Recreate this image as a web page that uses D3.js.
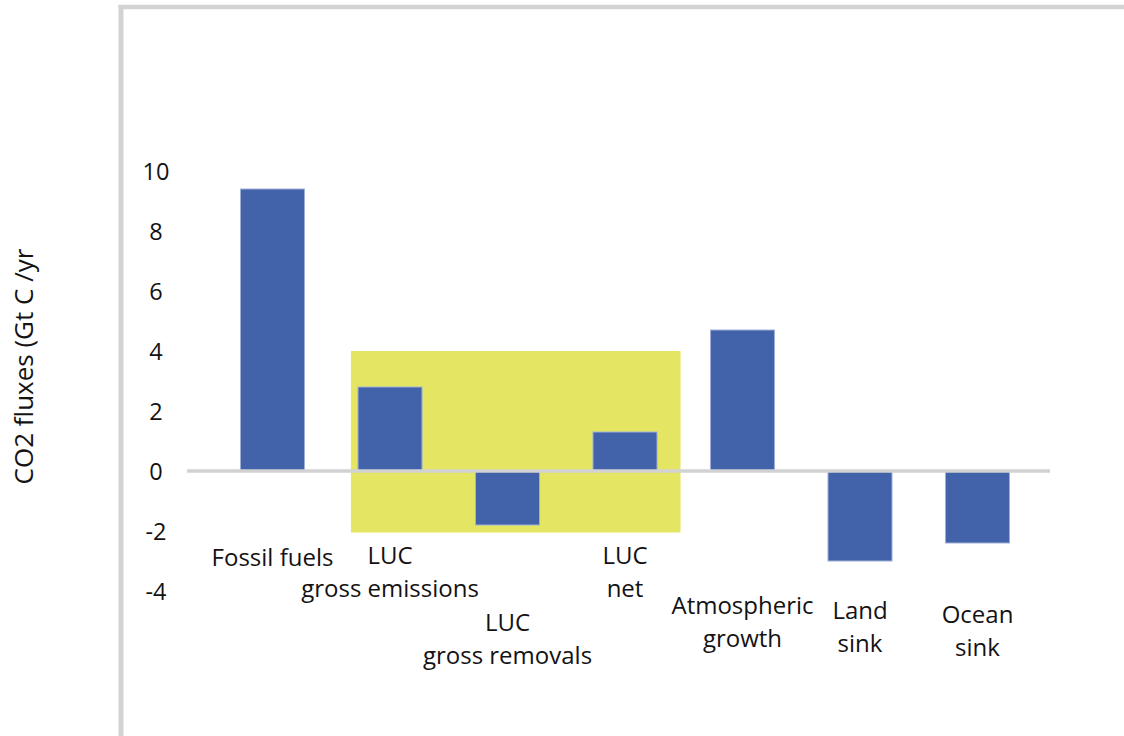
<!DOCTYPE html>
<html>
<head>
<meta charset="utf-8">
<script src="https://cdn.jsdelivr.net/npm/d3@7"></script>
<style>
  html, body { margin: 0; padding: 0; background: #fff; }
  svg { display: block; }
  text { font-family: "Open Sans", "Noto Sans", sans-serif; fill: #141213; }
</style>
</head>
<body>
<svg id="chart" width="1124" height="736"></svg>
<script>
// Global carbon budget components (Gt C per year)
const categories = [
  "Fossil fuels",
  "LUC gross emissions",
  "LUC gross removals",
  "LUC net",
  "Atmospheric growth",
  "Land sink",
  "Ocean sink"
];
const fluxes = [9.4, 2.8, -1.8, 1.3, 4.7, -3.0, -2.4];
const labelLines = [
  ["Fossil fuels"],
  ["LUC", "gross emissions"],
  ["LUC", "gross removals"],
  ["LUC", "net"],
  ["Atmospheric", "growth"],
  ["Land", "sink"],
  ["Ocean", "sink"]
];
const yTicks = [10, 8, 6, 4, 2, 0, -2, -4];
const yTitle = "CO2 fluxes (Gt C /yr";
// Land-use-change group that gets the highlight panel
const highlightFrom = "LUC gross emissions";
const highlightTo = "LUC net";
const highlightRange = [-2.05, 4];

// Layout: distance of each category label's first baseline below the zero line
const labelDrop = [95, 93, 160, 93, 143, 148, 152];
const lineGap = 33;

const svg = d3.select("#chart");

const x = d3.scaleBand()
  .domain(categories)
  .range([213.75, 1036.25])
  .paddingInner(0.455)
  .paddingOuter(0.2275);

const y = d3.scaleLinear()
  .domain([-4, 10])
  .range([591, 171]);

// Light grey frame (left and top edges)
svg.append("line")
  .attr("x1", 121).attr("x2", 121)
  .attr("y1", 5).attr("y2", 736)
  .attr("stroke", "#d3d3d3").attr("stroke-width", 5);
svg.append("line")
  .attr("x1", 118.5).attr("x2", 1124)
  .attr("y1", 7).attr("y2", 7)
  .attr("stroke", "#d3d3d3").attr("stroke-width", 4.5);

// Highlight panel behind the land-use-change bars
const step = x.step();
const hlLeft = x(highlightFrom) - 0.06 * step;
const hlRight = x(highlightTo) + x.bandwidth() + 0.2 * step;
svg.append("rect")
  .attr("x", hlLeft)
  .attr("y", y(highlightRange[1]))
  .attr("width", hlRight - hlLeft)
  .attr("height", y(highlightRange[0]) - y(highlightRange[1]))
  .attr("fill", "#e4e663");

// Bars
svg.append("g")
  .selectAll("rect")
  .data(categories)
  .join("rect")
  .attr("x", d => x(d))
  .attr("width", x.bandwidth())
  .attr("y", (d, i) => y(Math.max(0, fluxes[i])))
  .attr("height", (d, i) => Math.abs(y(fluxes[i]) - y(0)))
  .attr("fill", "#4263aa")
  .attr("stroke", "#9fb0d8")
  .attr("stroke-width", 1);

// Zero line
svg.append("line")
  .attr("x1", 187).attr("x2", 1050)
  .attr("y1", y(0)).attr("y2", y(0))
  .attr("stroke", "#d2d2d2").attr("stroke-width", 3.5);

// Y axis tick labels
const yAxis = svg.append("g")
  .attr("transform", "translate(156,0)")
  .call(d3.axisLeft(y).tickValues(yTicks).tickSize(0).tickPadding(0).tickFormat(d => String(d)));
yAxis.select(".domain").remove();
yAxis.selectAll("text")
  .attr("x", 0)
  .attr("text-anchor", "middle")
  .attr("dy", "0.36em")
  .style("font-family", "\"Open Sans\", \"Noto Sans\", sans-serif")
  .style("font-size", "23.5px")
  .style("fill", "#141213");

// Category labels
const labels = svg.append("g")
  .selectAll("text")
  .data(categories)
  .join("text")
  .attr("text-anchor", "middle")
  .attr("font-size", 24)
  .attr("transform", (d, i) => `translate(${x(d) + x.bandwidth() / 2},${y(0) + labelDrop[i]})`);
labels.selectAll("tspan")
  .data((d, i) => labelLines[i])
  .join("tspan")
  .attr("x", 0)
  .attr("y", (d, j) => j * lineGap)
  .text(d => d);

// Y axis title
svg.append("text")
  .attr("transform", `translate(33,${(240 + 493) / 2}) rotate(-90)`)
  .attr("text-anchor", "middle")
  .attr("font-size", 26)
  .text(yTitle);
</script>
</body>
</html>
